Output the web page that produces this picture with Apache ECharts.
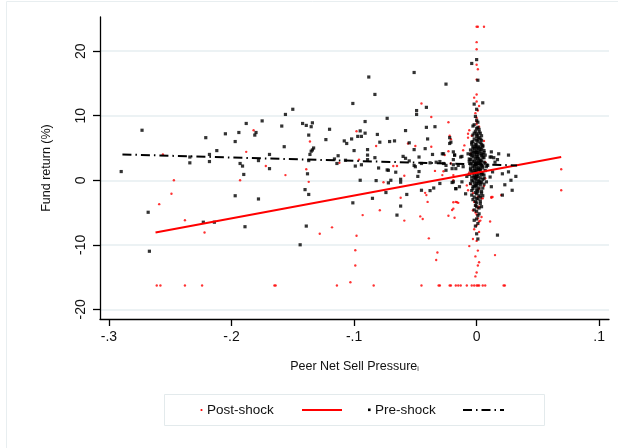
<!DOCTYPE html>
<html>
<head>
<meta charset="utf-8">
<script src="https://cdn.jsdelivr.net/npm/echarts@6/dist/echarts.min.js"></script>
<style>
html,body{margin:0;padding:0;background:#fff;}
#chart{width:618px;height:448px;}
</style>
</head>
<body>
<div id="chart"></div>
<script>
// tick positions
var xTicks = [-0.3, -0.2, -0.1, 0, 0.1];
var yTicks = [-20, -10, 0, 10, 20];

// fitted lines (endpoints)
var postFit = [[-0.262, -8.1], [0.069, 3.6]];
var preFit = [[-0.289, 4.0], [0.033, 2.3]];

// Post-shock funds (red)
var postShock = [
  [-0.256,4.0],[-0.247,0.0],[-0.249,-2.1],[-0.259,-3.7],[-0.238,-6.2],[-0.222,-8.1],
  [-0.188,4.4],[-0.193,0.0],[-0.182,7.75],[-0.172,2.2],[-0.156,0.8],
  [-0.261,-16.3],[-0.258,-16.3],[-0.238,-16.3],[-0.224,-16.3],[-0.165,-16.3],[-0.164,-16.3],
  [-0.136,6.0],[-0.139,1.7],[-0.137,-0.25],[-0.128,-8.3],[-0.118,-7.3],[-0.098,7.6],
  [-0.096,3.2],[-0.112,2.7],[-0.093,-5.4],[-0.098,-8.6],[-0.099,-10.85],[-0.099,-13.2],
  [-0.103,-15.8],[-0.114,-16.3],[-0.084,-16.3],[-0.082,5.3],[-0.079,-4.65],[-0.076,-0.3],
  [-0.068,2.2],[-0.065,2.2],[-0.059,0.7],[-0.062,-2.7],[-0.059,-6.25],[-0.056,5.7],
  [-0.050,5.3],[-0.045,11.9],[-0.037,9.8],[-0.037,5.2],[-0.034,1.45],[-0.042,-1.95],
  [-0.041,-2.3],[-0.040,-3.35],[-0.046,-5.6],[-0.044,-6.0],[-0.039,-9.0],[-0.032,-11.2],
  [-0.033,-12.35],[-0.045,-16.3],[-0.031,-16.3],[-0.021,-16.3],[-0.017,-16.3],[-0.015,-16.3],
  [-0.028,0.8],[-0.027,1.4],[-0.026,3.9],[-0.023,4.5],[-0.023,9.0],[-0.022,6.9],[-0.021,6.35],
  [-0.023,-5.5],[-0.020,-4.6],[-0.019,-3.4],[-0.018,-5.8],[-0.015,-3.5],[-0.021,2.6],[-0.019,0.8],
  [-0.016,-3.4],[-0.030,-16.3],[-0.022,-16.3],[-0.013,-16.3],[-0.008,-16.3],[-0.004,-16.3],
  [-0.002,-16.3],[0.000,-16.3],[0.001,-16.3],[0.002,-16.3],[0.005,-16.3],[0.007,-16.3],
  [0.023,-16.3],[0.022,-16.3],
  [0.000,23.8],[0.001,23.8],[0.006,23.8],[0.000,21.4],[0.000,20.3],[0.000,17.9],[0.001,17.2],
  [0.000,15.6],[0.000,13.3],[-0.002,12.8],[0.000,12.2],[0.002,11.5],[0.000,9.7],[0.000,9.1],
  [0.000,8.7],[0.002,8.3],[-0.007,6.6],[-0.006,7.75],[-0.007,7.2],[-0.010,5.4],[-0.011,4.65],
  [-0.005,4.1],[0.007,2.8],[-0.019,0.0],[-0.008,-0.8],[-0.007,-1.55],[0.001,-2.6],[0.005,-2.8],
  [-0.002,-3.35],[0.002,-4.1],[-0.003,-4.65],[0.000,-5.3],[0.004,-5.7],[-0.017,-3.35],
  [-0.019,-4.4],[0.013,-2.6],[0.020,-2.3],[-0.003,-2.0],[0.002,-1.3],[0.004,-2.8],[0.012,-2.6],
  [-0.001,-3.9],[0.001,-4.3],[-0.001,-5.0],[0.001,-5.9],[0.002,-6.4],[0.000,-7.0],[0.003,-6.25],
  [0.011,-6.4],[-0.003,-9.1],[0.000,-9.4],[-0.006,-10.2],[0.015,-11.6],[0.002,-12.7],
  [0.001,-13.2],[0.000,-14.3],[-0.001,-14.9],[0.069,1.7],[0.069,-1.55],[0.012,-2.7],
  [-0.001,10.4],[0.001,10.8],[-0.004,6.9],[0.006,6.1],[-0.006,1.2],[0.007,0.3],[-0.005,-0.6],
  [0.006,-0.9],[-0.002,-7.6],[0.002,-8.0],[0.001,-10.9],[-0.001,-11.8]
];

// Pre-shock funds (black)
var preShock = [
  [-0.273,7.75],[-0.290,1.35],[-0.268,-4.96],[-0.267,-11.0],[-0.221,6.6],[-0.234,3.6],
  [-0.234,2.7],[-0.218,4.0],[-0.218,2.9],[-0.212,4.6],[-0.223,-6.5],[-0.214,-6.5],
  [-0.205,7.2],[-0.197,6.0],[-0.194,7.4],[-0.188,8.8],[-0.175,9.2],[-0.180,7.4],[-0.181,7.0],
  [-0.193,2.6],[-0.191,2.2],[-0.190,0.9],[-0.197,-2.4],[-0.178,-2.9],[-0.189,-7.2],
  [-0.169,4.0],[-0.169,1.8],[-0.178,3.05],[-0.159,8.4],[-0.156,10.2],[-0.150,11.0],[-0.157,5.2],
  [-0.088,16.0],[-0.083,13.3],[-0.101,11.9],[-0.051,16.7],[-0.025,14.9],[-0.041,11.3],
  [-0.049,10.8],[-0.049,10.2],[-0.142,8.8],[-0.139,8.5],[-0.134,8.9],[-0.135,8.3],[-0.137,7.0],
  [-0.123,6.3],[-0.120,7.9],[-0.108,6.1],[-0.106,5.7],[-0.102,6.4],[-0.097,6.8],[-0.095,7.65],
  [-0.094,6.8],[-0.091,7.3],[-0.091,9.1],[-0.073,9.6],[-0.081,7.1],[-0.079,5.9],[-0.071,6.0],
  [-0.067,6.1],[-0.058,7.7],[-0.055,5.8],[-0.041,8.2],[-0.034,8.3],[-0.040,6.4],[-0.042,4.9],
  [-0.051,4.75],[-0.047,3.6],[-0.036,4.0],[-0.027,4.1],[-0.021,5.9],[-0.022,6.6],[-0.019,3.2],
  [-0.025,2.3],[-0.136,4.0],[-0.135,4.5],[-0.134,4.7],[-0.133,5.0],[-0.137,3.05],[-0.138,1.0],
  [-0.140,-1.45],[-0.137,-2.2],[-0.139,-7.1],[-0.144,-10.0],[-0.116,3.3],[-0.114,2.6],
  [-0.113,3.8],[-0.107,3.1],[-0.100,4.6],[-0.099,2.2],[-0.094,2.4],[-0.095,0.0],[-0.089,4.75],
  [-0.089,3.9],[-0.089,3.2],[-0.083,3.5],[-0.082,-0.05],[-0.080,1.9],[-0.073,1.6],[-0.072,1.55],
  [-0.070,0.0],[-0.072,-0.4],[-0.066,1.25],[-0.074,-1.9],[-0.085,-2.8],[-0.101,-3.5],
  [-0.062,0.15],[-0.062,-0.3],[-0.060,3.7],[-0.058,3.4],[-0.055,3.0],[-0.051,2.3],[-0.050,2.1],
  [-0.047,1.35],[-0.048,0.6],[-0.057,-2.2],[-0.062,-4.0],[-0.065,-5.4],[-0.045,-1.55],
  [-0.038,-1.6],[-0.035,-1.2],[-0.030,-0.5],[-0.033,2.8],[-0.030,2.9],[-0.020,1.8],[-0.017,1.8],
  [-0.020,-0.35],[-0.017,-1.3],[-0.045,2.6],[-0.038,2.7],[-0.027,2.6],[-0.018,3.9],
  [-0.028,4.1],[-0.018,3.9],[-0.013,3.6],[-0.025,1.55],[-0.019,2.4],[-0.015,2.3],[-0.011,2.1],
  [-0.008,0.6],[-0.019,-0.25],[-0.014,-1.0],[-0.017,-1.3],[-0.009,-2.1],[-0.012,-0.25],
  [-0.019,4.4],[-0.022,5.7],[-0.012,3.7],[-0.007,4.1],
  [0.011,3.6],[0.015,2.8],[0.008,2.1],[0.013,1.3],[0.011,0.5],[0.008,-0.25],[0.012,-1.0],
  [0.026,1.3],[0.021,1.0],[0.012,4.4],[0.005,5.2],[0.018,4.1],[0.026,3.9],[0.032,0.6],
  [0.028,0.0],[0.023,-0.7],[0.029,-1.55],[0.021,-2.3],[0.014,3.5],[0.017,3.2],[0.012,3.6],
  [0.009,2.3],[0.017,-8.5],[0.000,-8.3],
  [0.000,18.7],[-0.004,18.1],[0.001,15.5],[0.005,12.0],[-0.002,11.8],[0.000,11.0],
  [-0.001,9.9],[0.001,9.0],[-0.003,8.4],
  [0.000,9.3],[-0.002,8.6],[0.001,8.2],[0.002,7.9],[-0.001,7.6],[0.003,7.3],[-0.003,7.0],
  [0.000,6.8],[0.002,6.6],[-0.002,6.4],[0.004,6.2],[0.001,6.0],[-0.004,5.9],[0.003,5.8],
  [-0.001,5.6],[0.000,5.5],[0.005,5.4],[-0.003,5.3],[0.002,5.2],[0.001,5.0],[-0.002,4.9],
  [0.004,4.8],[-0.005,4.7],[0.000,4.6],[0.003,4.5],[-0.001,4.4],[0.006,4.3],[-0.004,4.2],
  [0.002,4.1],[0.000,4.0],[-0.002,3.9],[0.004,3.8],[0.001,3.7],[-0.003,3.6],[0.005,3.5],
  [-0.001,3.4],[0.002,3.3],[-0.005,3.2],[0.003,3.1],[0.000,3.0],[-0.002,2.9],[0.006,2.8],
  [0.001,2.7],[-0.004,2.6],[0.003,2.5],[-0.001,2.4],[0.004,2.3],[0.000,2.2],[-0.003,2.1],
  [0.002,2.0],[0.005,1.9],[-0.002,1.8],[0.001,1.7],[-0.005,1.6],[0.003,1.5],[0.000,1.4],
  [-0.001,1.3],[0.004,1.2],[-0.003,1.1],[0.002,1.0],[0.000,0.9],[0.006,0.8],[-0.002,0.7],
  [0.001,0.6],[-0.004,0.5],[0.003,0.4],[0.000,0.3],[-0.001,0.2],[0.005,0.1],[0.002,0.0],
  [-0.003,-0.1],[0.000,-0.2],[0.004,-0.3],[-0.002,-0.4],[0.001,-0.5],[0.003,-0.7],
  [-0.001,-0.8],[0.000,-1.0],[0.002,-1.2],[-0.003,-1.3],[0.001,-1.5],[0.004,-1.7],
  [-0.001,-1.9],[0.000,-2.1],[0.002,-2.4],[-0.002,-2.6],[0.001,-2.9],[0.003,-3.2],
  [0.000,-3.5],[-0.001,-3.9],[0.002,-4.3],[0.000,-4.8],[0.001,-5.5],[-0.002,-6.2],
  [0.004,3.0],[-0.004,3.8],[0.005,2.2],[-0.005,2.5],[0.006,3.5],[-0.003,4.5],[0.003,5.0],
  [-0.002,1.5],[0.005,1.0],[-0.004,0.0],[0.003,-0.4],[-0.003,-1.0],[0.004,-2.0],[0.006,4.6],
  [-0.006,3.3],[0.001,4.3],[0.002,2.9],[-0.001,2.6],[0.003,1.8],[-0.002,0.4],[0.005,-1.2],
  [-0.001,5.2],[0.001,6.4],[-0.003,6.0],[0.004,6.9],[0.002,7.5],[-0.004,-2.3],[0.003,-3.6],
  [-0.003,5.0],[0.005,4.0],[-0.005,4.0],[0.007,3.9],[-0.006,2.9],[0.007,2.6],[-0.005,1.9],
  [0.007,1.5],[-0.006,0.9],[0.006,0.3],[-0.005,-0.5],[0.006,-0.6],[-0.004,-1.6],[0.005,-2.4],
  [-0.003,-3.0],[0.004,-4.1],[-0.002,-4.6],[0.002,-5.2],[-0.001,-7.1],[0.001,-6.7],
  [0.003,6.4],[-0.002,7.3],[0.001,7.0],[0.004,5.6],[-0.004,5.6],[0.002,4.7],[-0.002,4.3],
  [0.004,4.1],[0.001,3.4],[-0.003,3.0],[0.003,2.7],[-0.002,2.3],[0.002,1.6],[-0.004,1.4],
  [0.004,0.9],[-0.001,0.5],[0.002,-0.2],[-0.002,-0.9],[0.001,-1.8],[0.003,-2.6],
  [0.000,3.6],[0.000,2.6],[0.000,1.8],[0.000,0.6],[0.000,-0.6],[0.000,-1.5],[0.000,-2.8],
  [0.000,4.3],[0.000,5.1],[0.000,6.2],[0.000,7.2],[0.000,8.0],[0.000,-4.1],[0.000,-6.0],
  [0.001,-9.1],[-0.001,-3.3]
];

var font = "'Liberation Sans', Arial, Helvetica, sans-serif";

var chart = echarts.init(document.getElementById('chart'), null, {renderer: 'canvas'});

function fmtX(v) {
  if (Math.abs(v) < 1e-9) return '0';
  var s = String(Math.round(Math.abs(v) * 10) / 10).replace(/^0/, '');
  return (v < 0 ? '-' : '') + s;
}

var option = {
  backgroundColor: '#fff',
  animation: false,
  grid: {left: 100, right: 9, top: 17, bottom: 129},
  xAxis: {
    type: 'value',
    min: -0.3073,
    max: 0.108,
    name: 'Peer Net Sell Pressure{sub|i}',
    nameLocation: 'middle',
    nameGap: 41,
    nameTextStyle: {
      color: '#111', fontSize: 12.5, fontFamily: font,
      rich: {sub: {fontSize: 7, verticalAlign: 'bottom', padding: [6, 0, 0, 0], color: '#111'}}
    },
    axisLine: {show: true, onZero: false, lineStyle: {color: '#000', width: 1.3}},
    axisTick: {show: true, inside: false, length: 7, lineStyle: {color: '#000', width: 1.3}, customValues: xTicks},
    axisLabel: {show: true, margin: 11, color: '#111', fontSize: 14, fontFamily: font, customValues: xTicks, formatter: fmtX},
    splitLine: {show: false}
  },
  yAxis: {
    type: 'value',
    min: -21.5,
    max: 25.3,
    name: 'Fund return (%)',
    nameLocation: 'middle',
    nameGap: 47,
    nameRotate: 90,
    nameTextStyle: {color: '#111', fontSize: 12.5, fontFamily: font},
    axisLine: {show: true, onZero: false, lineStyle: {color: '#000', width: 1.3}},
    axisTick: {show: true, inside: false, length: 7, lineStyle: {color: '#000', width: 1.3}, customValues: yTicks},
    axisLabel: {show: true, margin: 12, rotate: 90, color: '#111', fontSize: 14, fontFamily: font, customValues: yTicks},
    splitLine: {show: true, customValues: yTicks, lineStyle: {color: '#e6eef1', width: 1.5}}
  },
  graphic: [
    {type: 'rect', silent: true, z: -10, shape: {x: 6.5, y: 1.5, width: 700, height: 500},
      style: {fill: null, stroke: '#e8eef0', lineWidth: 1}},
    {type: 'rect', silent: true, shape: {x: 164.5, y: 394.5, width: 380, height: 31},
      style: {fill: '#fff', stroke: '#e3eaec', lineWidth: 1}},
    {type: 'circle', silent: true, shape: {cx: 201.5, cy: 410, r: 1.1}, style: {fill: '#ff0000'}},
    {type: 'text', silent: true, x: 207, y: 410,
      style: {text: 'Post-shock', fill: '#111', font: '13.5px ' + font, verticalAlign: 'middle'}},
    {type: 'line', silent: true, shape: {x1: 302, y1: 410, x2: 342, y2: 410},
      style: {stroke: '#ff0000', lineWidth: 2}},
    {type: 'rect', silent: true, shape: {x: 368, y: 408.5, width: 2.6, height: 2.6}, style: {fill: '#000'}},
    {type: 'text', silent: true, x: 375, y: 410,
      style: {text: 'Pre-shock', fill: '#111', font: '13.5px ' + font, verticalAlign: 'middle'}},
    {type: 'line', silent: true, shape: {x1: 463, y1: 410, x2: 504, y2: 410},
      style: {stroke: '#000', lineWidth: 2, lineDash: [9, 4, 1.5, 4]}}
  ],
  series: [
    {
      name: 'Post-shock',
      type: 'scatter',
      symbol: 'circle',
      symbolSize: 2.4,
      itemStyle: {color: '#ff0000'},
      data: postShock
    },
    {
      name: 'Post-shock fit',
      type: 'line',
      symbol: 'none',
      lineStyle: {color: '#ff0000', width: 2},
      data: postFit
    },
    {
      name: 'Pre-shock',
      type: 'scatter',
      symbol: 'rect',
      symbolSize: 3.2,
      itemStyle: {color: '#000'},
      data: preShock
    },
    {
      name: 'Pre-shock fit',
      type: 'line',
      symbol: 'none',
      lineStyle: {color: '#000', width: 2, type: [9, 4, 1.5, 4]},
      data: preFit
    }
  ]
};

chart.setOption(option);
</script>
</body>
</html>
